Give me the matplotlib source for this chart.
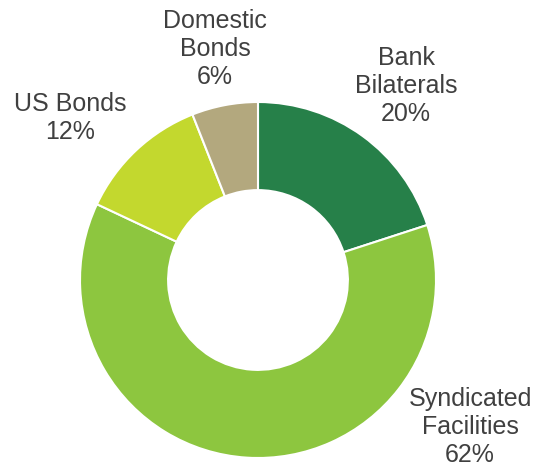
import matplotlib
matplotlib.use("Agg")
import matplotlib.pyplot as plt

categories = ["Bank\nBilaterals", "Syndicated\nFacilities", "US Bonds", "Domestic\nBonds"]
values = [20, 62, 12, 6]
colors = ["#268049", "#8DC63F", "#C3D82E", "#B3A87E"]

W, H = 537, 469
fig = plt.figure(figsize=(W / 100, H / 100), dpi=100)
ax = fig.add_axes([0, 0, 1, 1])

cx, cy, R = 258, H - 280, 178
wedges, _ = ax.pie(values, colors=colors, startangle=90, counterclock=False,
                   center=(cx, cy), radius=R,
                   wedgeprops=dict(width=R * 0.495, edgecolor="white", linewidth=1.5),
                   frame=True)
ax.set_xlim(0, W)
ax.set_ylim(0, H)
ax.set_aspect("equal")
ax.axis("off")

label_pos = [(406, 86), (470, 427), (70, 118), (215, 49)]
for cat, v, (x, y) in zip(categories, values, label_pos):
    ax.text(x, H - y, f"{cat}\n{v}%", ha="center", va="center", fontsize=18,
            color="#404040", family="Liberation Sans", linespacing=1.2)

fig.savefig("out.png", dpi=100)
